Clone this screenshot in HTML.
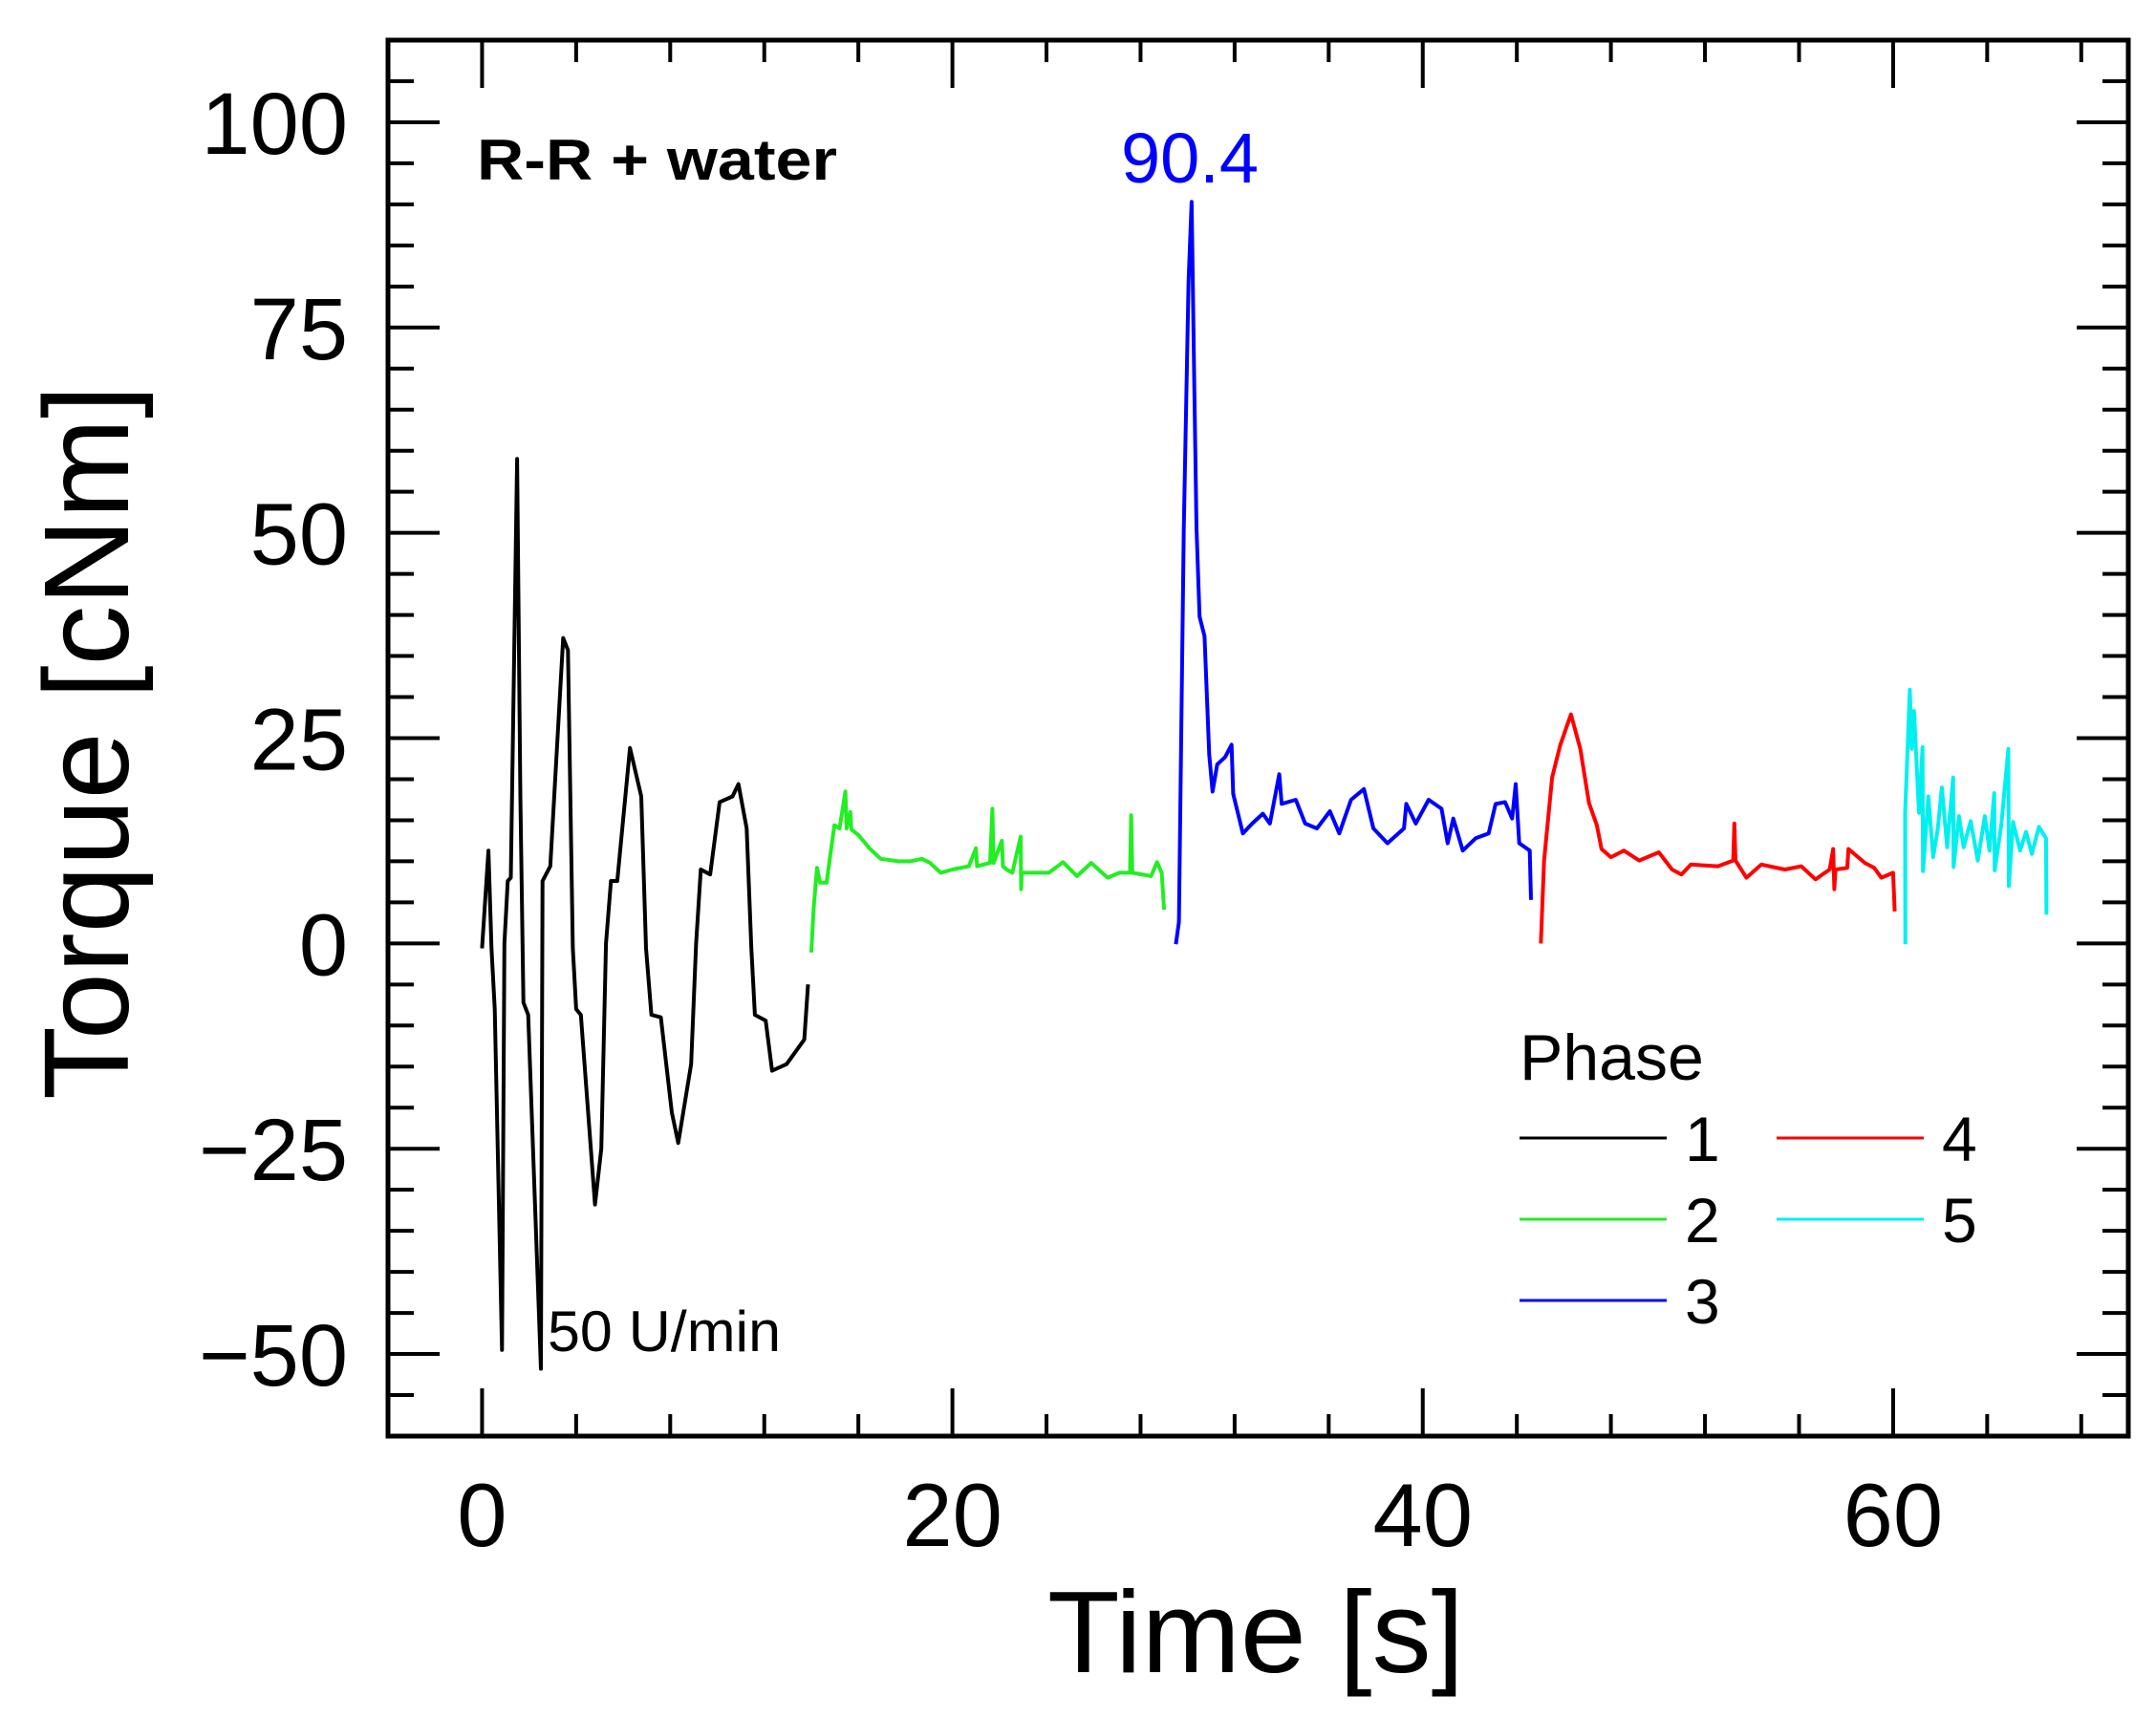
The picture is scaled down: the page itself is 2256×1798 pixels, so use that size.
<!DOCTYPE html>
<html><head><meta charset="utf-8"><style>
html,body{margin:0;padding:0;background:#fff;}
svg{display:block;font-family:"Liberation Sans",Arial,sans-serif;}
</style></head><body>
<svg id="chart" width="2256" height="1798" viewBox="0 0 2256 1798" xmlns="http://www.w3.org/2000/svg">
<rect x="0" y="0" width="2256" height="1798" fill="#fff"/>
<g id="series"></g>
<g id="axes"></g>
<text x="499" y="188" font-size="60" font-weight="bold" textLength="377" lengthAdjust="spacingAndGlyphs">R-R + water</text>
<text x="1245" y="191" font-size="74" fill="#0000ff" text-anchor="middle">90.4</text>
<text x="573" y="1414" font-size="60" textLength="244" lengthAdjust="spacingAndGlyphs">50 U/min</text>
<text transform="translate(134,777) rotate(-90)" font-size="126" text-anchor="middle" textLength="748" lengthAdjust="spacingAndGlyphs">Torque [cNm]</text>
<text x="1314" y="1750" font-size="122" text-anchor="middle" textLength="436" lengthAdjust="spacingAndGlyphs">Time [s]</text>
<g id="legend">
<text x="1590" y="1130" font-size="68">Phase</text>
</g>
</svg>
<script>
const xTicks = [0, 20, 40, 60];
const yTicks = [-50, -25, 0, 25, 50, 75, 100];
const phaseNames = ["1", "2", "3", "4", "5"];
const phaseColors = ["#000000", "#22ee22", "#0000ff", "#ff0000", "#00f0f0"];
const t1 = [0,0.27,0.4,0.54,0.85,0.95,1.09,1.22,1.49,1.63,1.76,1.96,2.5,2.57,2.9,3.45,3.65,3.86,4.0,4.2,4.8,5.07,5.27,5.48,5.75,6.29,6.77,6.97,7.2,7.6,8.07,8.34,8.89,9.1,9.3,9.7,10.1,10.65,10.9,11.25,11.45,11.6,12.06,12.33,12.95,13.7,13.86];
const v1 = [-0.6,11.3,-0.6,-8,-49.5,0,7.6,8,59,17.9,-7.2,-8.7,-51.8,7.6,9.4,37.2,35.7,-0.6,-8,-8.7,-31.8,-25,0,7.6,7.6,23.8,17.9,-0.6,-8.7,-9,-20.6,-24.3,-14.7,0,9,8.4,17.2,17.9,19.4,14,-0.6,-8.7,-9.4,-15.5,-14.7,-11.7,-5];
const t2 = [14.0,14.1,14.24,14.37,14.65,14.98,15.2,15.45,15.5,15.66,15.7,16.0,16.47,16.95,17.7,18.2,18.7,19.05,19.5,20.0,20.7,21.0,21.05,21.6,21.7,21.75,22.1,22.15,22.3,22.55,22.9,22.92,22.95,23.3,24.1,24.7,25.3,25.9,26.6,27.1,27.55,27.6,27.65,28.45,28.7,28.9,29.0];
const v2 = [-1.1,4.3,9.2,7.4,7.4,14.4,14,18.5,14,16,13.9,13.2,11.6,10.3,10,10,10.3,9.8,8.6,9,9.4,11.6,9.4,9.8,16.4,9.8,12.5,9.4,9,8.6,13,6.6,8.6,8.6,8.6,9.9,8.2,9.8,8,8.6,8.6,15.6,8.6,8.2,9.9,8.6,4.1];
const t3 = [29.5,29.63,29.84,30.04,30.17,30.28,30.38,30.51,30.72,30.92,31.06,31.26,31.6,31.87,31.94,32.35,32.75,33.2,33.5,33.9,34.0,34.6,35.0,35.5,36.05,36.45,36.95,37.5,37.9,38.5,39.2,39.3,39.7,40.25,40.8,41.06,41.3,41.7,42.25,42.8,43.1,43.5,43.8,43.95,44.1,44.55,44.6];
const v3 = [-0.1,2.6,50.6,80.7,90.3,68.6,50.6,39.8,37.4,23,18.5,21.8,22.7,24.2,18.2,13.4,14.6,15.8,14.6,20.6,17,17.5,14.6,14,16.1,13.4,17.5,18.8,14,12.2,14,17,14.6,17.5,16.4,12.2,15.2,11.3,12.8,13.4,17,17.2,15.2,19.4,12.2,11.3,5.3];
const t4 = [45.02,45.16,45.5,45.84,46.3,46.7,47.07,47.4,47.6,48.0,48.55,49.2,50.04,50.6,51.0,51.4,52.55,53.2,53.25,53.3,53.76,54.4,55.4,56.1,56.7,57.3,57.45,57.5,57.55,58.05,58.1,58.8,59.2,59.5,60.0,60.07];
const v4 = [0,10.1,20.2,24.1,27.9,23.7,17.1,14.4,11.5,10.5,11.3,10.1,11.1,9,8.4,9.6,9.4,10.1,14.6,10.1,8,9.6,9,9.4,7.8,9,11.5,6.6,9,9.2,11.5,9.8,9.2,8,8.6,3.9];
const t5 = [60.52,60.51,60.71,60.79,60.89,61.1,61.25,61.27,61.5,61.7,61.9,62.07,62.3,62.55,62.57,62.8,63.0,63.3,63.6,63.9,64.1,64.3,64.32,64.6,64.9,64.92,65.1,65.4,65.65,65.9,66.2,66.5,66.52];
const v5 = [-0.1,15.9,30.9,23.7,28.3,15.9,23.9,8.8,17.9,10.5,14,19,11.7,20.2,9.3,15.5,11.7,14.9,10.1,15.5,11.3,18.3,8.9,14.4,23.7,7,14.8,11.3,13.6,10.9,14.2,12.8,3.5];
const seriesT = [t1, t2, t3, t4, t5];
const seriesV = [v1, v2, v3, v4, v5];

const X0 = 406, X1 = 2227, Y0 = 42, Y1 = 1503;
const xMin = -4, xMax = 70, yMin = -60, yMax = 110;
function sx(t){ return X0 + (t - xMin) / (xMax - xMin) * (X1 - X0); }
function sy(v){ return Y1 - (v - yMin) / (yMax - yMin) * (Y1 - Y0); }
const NS = "http://www.w3.org/2000/svg";
function mk(tag, attrs, parent){ const e = document.createElementNS(NS, tag); for (const k in attrs) e.setAttribute(k, attrs[k]); parent.appendChild(e); return e; }

const sg = document.getElementById('series');
seriesT.forEach((ts, i) => {
  const d = ts.map((t, j) => (j ? 'L' : 'M') + sx(t).toFixed(1) + ',' + sy(seriesV[i][j]).toFixed(1)).join('');
  const p = mk('path', {d: d, fill: 'none', stroke: phaseColors[i], 'stroke-width': 4, 'stroke-linejoin': 'round'}, sg);
  
  
});

const ag = document.getElementById('axes');
const frame = mk('rect', {x: X0, y: Y0, width: X1 - X0, height: Y1 - Y0, fill: 'none', stroke: '#000', 'stroke-width': 5}, ag);


for (let t = 0; t <= 68; t += 4) {
  const major = t % 20 === 0, L = major ? 50 : 23, x = sx(t);
  const tk = mk('path', {d: `M${x},${Y1}V${Y1 - L}M${x},${Y0}V${Y0 + L}`, stroke: '#000', 'stroke-width': 4}, ag);
  
  
}
for (let v = -55; v <= 105; v += 5) {
  const major = v % 25 === 0, L = major ? 54 : 27, y = sy(v);
  const tk = mk('path', {d: `M${X0},${y}H${X0 + L}M${X1},${y}H${X1 - L}`, stroke: '#000', 'stroke-width': 4}, ag);
  
  
}
xTicks.forEach(t => {
  const tx = mk('text', {x: sx(t), y: 1618, 'font-size': 94, 'text-anchor': 'middle'}, ag);
  tx.textContent = String(t);
  
  
});
yTicks.forEach(v => {
  const tx = mk('text', {x: 364, y: sy(v) + 33, 'font-size': 92, 'text-anchor': 'end'}, ag);
  tx.textContent = v < 0 ? '\u2212' + Math.abs(v) : String(v);
  
  
});

const lg = document.getElementById('legend');
const legPos = [[1590,1191],[1590,1276],[1590,1361],[1859,1191],[1859,1276]];
phaseNames.forEach((n, i) => {
  const [lx, ly] = legPos[i];
  const ln = mk('line', {x1: lx, x2: lx + 154, y1: ly, y2: ly, stroke: phaseColors[i], 'stroke-width': 3}, lg);
  
  
  const tx = mk('text', {x: lx + 173, y: ly + 24, 'font-size': 66}, lg);
  tx.textContent = n;
  
  
});
</script>
</body></html>
